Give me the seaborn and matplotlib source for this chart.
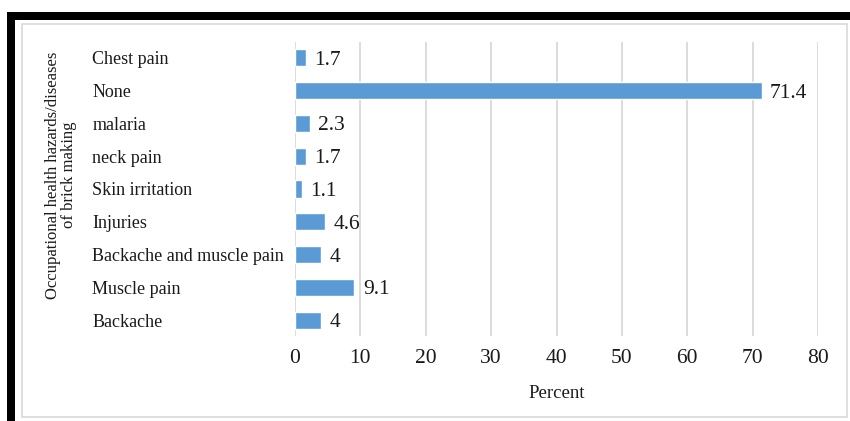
import matplotlib
matplotlib.use("Agg")
import matplotlib.pyplot as plt
from matplotlib.patches import Rectangle
import seaborn as sns
import pandas as pd

# Occupational health hazards / diseases reported by brick makers (percent)
hazards = [
    "Chest pain",
    "None",
    "malaria",
    "neck pain",
    "Skin irritation",
    "Injuries",
    "Backache and muscle pain",
    "Muscle pain",
    "Backache",
]
percent = [1.7, 71.4, 2.3, 1.7, 1.1, 4.6, 4, 9.1, 4]
x_ticks = [0, 10, 20, 30, 40, 50, 60, 70, 80]

df = pd.DataFrame({"hazard": hazards, "percent": percent})

sns.set_theme(style="white")
plt.rcParams["font.family"] = ["Liberation Serif", "DejaVu Serif"]

W, H = 850, 421
fig = plt.figure(figsize=(W / 100, H / 100), dpi=100)
fig.patch.set_facecolor("white")

# plot area in pixel coordinates
left, right, top, bottom = 295, 818, 41.6, 336.4
ax = fig.add_axes([left / W, 1 - bottom / H, (right - left) / W, (bottom - top) / H])

sns.barplot(data=df, x="percent", y="hazard", order=hazards, orient="h",
            color="#5B9BD5", saturation=1, width=0.52, ax=ax, zorder=3)

ax.set_xlim(0, 80)
ax.set_xticks(x_ticks)
ax.set_xticklabels([str(t) for t in x_ticks], fontsize=15.5, color="#1a1a1a")
ax.xaxis.grid(True, color="#d9d9d9", linewidth=1.3, zorder=0)
ax.yaxis.grid(False)
ax.tick_params(axis="x", length=0, pad=9)
ax.tick_params(axis="y", length=0, pad=146)
for lab in ax.get_yticklabels():
    lab.set_horizontalalignment("left")
    lab.set_fontsize(13)
    lab.set_color("#1a1a1a")

for s in ax.spines.values():
    s.set_visible(False)

ax.set_xlabel("Percent", fontsize=13.5, color="#1a1a1a", labelpad=12)
ax.set_ylabel("")

# value labels at the bar ends
texts = ax.bar_label(ax.containers[0], labels=[f"{v:g}" for v in percent],
                     padding=6, fontsize=15.5, color="#1a1a1a")
for t in texts:
    t.set_verticalalignment("center_baseline")

fig.text(61 / W, 1 - 175 / H,
         "Occupational health hazards/diseases\nof brick making",
         rotation=90, ha="center", va="center", multialignment="center",
         fontsize=12, linespacing=0.95, color="#1a1a1a")

# frame: thick black edges on top and left, thin grey chart border
fig.patches.append(Rectangle((7 / W, 1 - 20 / H), (W - 7) / W, 8 / H,
                             transform=fig.transFigure, facecolor="black",
                             edgecolor="none"))
fig.patches.append(Rectangle((7 / W, 0), 8 / W, 1 - 12 / H,
                             transform=fig.transFigure, facecolor="black",
                             edgecolor="none"))
fig.patches.append(Rectangle((22 / W, 1 - 417 / H), (847 - 22) / W, (417 - 24) / H,
                             transform=fig.transFigure, facecolor="none",
                             edgecolor="#d9d9d9", linewidth=1.2))

fig.savefig("out.png", dpi=100)
